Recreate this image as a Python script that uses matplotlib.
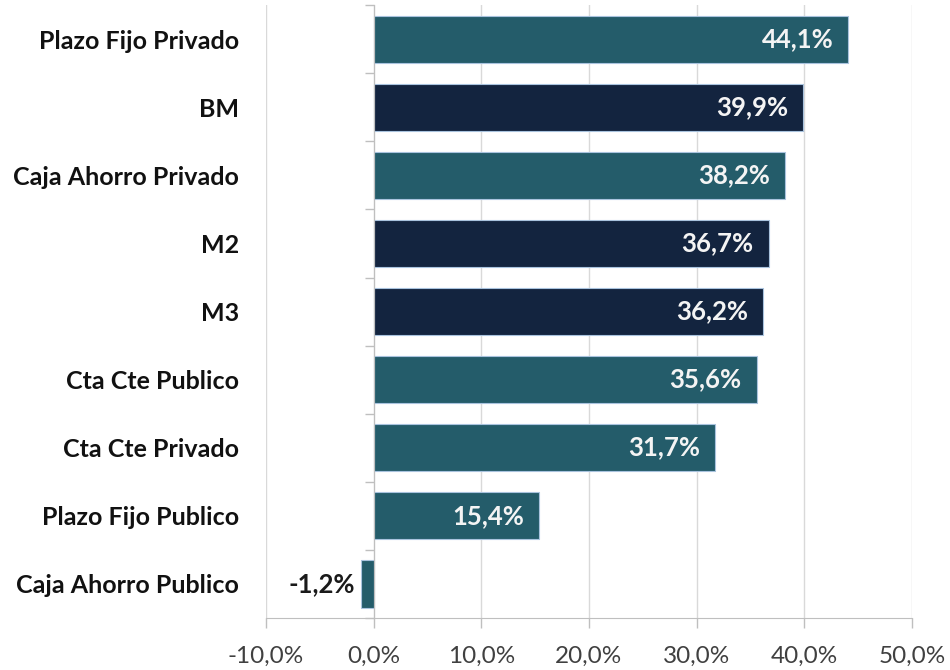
import matplotlib
matplotlib.use("Agg")
import matplotlib.pyplot as plt
import numpy as np

categories = ["Plazo Fijo Privado", "BM", "Caja Ahorro Privado", "M2", "M3",
              "Cta Cte Publico", "Cta Cte Privado", "Plazo Fijo Publico",
              "Caja Ahorro Publico"]
values = [44.1, 39.9, 38.2, 36.7, 36.2, 35.6, 31.7, 15.4, -1.2]
groups = ["dep", "agg", "dep", "agg", "agg", "dep", "dep", "dep", "dep"]
xticks = [-10, 0, 10, 20, 30, 40, 50]

color_map = {"dep": "#245C6A", "agg": "#13243F"}
plt.rcParams['font.family'] = ['Lato', 'DejaVu Sans']

fig = plt.figure(figsize=(9.5, 6.7), dpi=100)
ax = fig.add_axes([0.28, 0.078, 0.68, 0.914])

y = np.arange(len(categories))
colors = [color_map[g] for g in groups]
ax.barh(y, values, height=0.7, color=colors, edgecolor="#A9C3DE", linewidth=0.8, zorder=3)

ax.set_xlim(-10, 50)
ax.set_ylim(len(categories) - 0.5, -0.5)
ax.set_xticks(xticks)
ax.set_xticklabels([f"{t:.1f}%".replace(".", ",") for t in xticks], fontsize=17.5, color="#404040")
ax.grid(axis="x", color="#D9D9D9", linewidth=1, zorder=0)
ax.tick_params(axis="x", length=7, color="#BFBFBF", width=1, pad=13)

for s in ["top", "right"]:
    ax.spines[s].set_visible(False)
ax.spines["bottom"].set_color("#BFBFBF")
ax.spines["left"].set_position(("data", 0))
ax.spines["left"].set_color("#BFBFBF")
ax.spines["left"].set_zorder(4)

ax.set_yticks(y)
ax.set_yticklabels(categories, fontsize=18, fontweight="bold", color="#111111")
ax.tick_params(axis="y", which="major", length=0, pad=97)
ax.set_yticks(np.arange(len(categories) + 1) - 0.5, minor=True)
ax.tick_params(axis="y", which="minor", length=6.5, color="#BFBFBF", width=1)

for yi, v in zip(y, values):
    lab = f"{v:.1f}%".replace(".", ",")
    if v >= 0:
        ax.annotate(lab, (v, yi), xytext=(-11, 0), textcoords="offset points",
                    ha="right", va="center", color="#F4F4F4", fontsize=18.5,
                    fontweight="bold", zorder=5)
    else:
        ax.annotate(lab, (v, yi), xytext=(-4, 0), textcoords="offset points",
                    ha="right", va="center", color="#1a1a1a", fontsize=18.5,
                    fontweight="bold", zorder=5)

fig.savefig("out.png", dpi=100)
